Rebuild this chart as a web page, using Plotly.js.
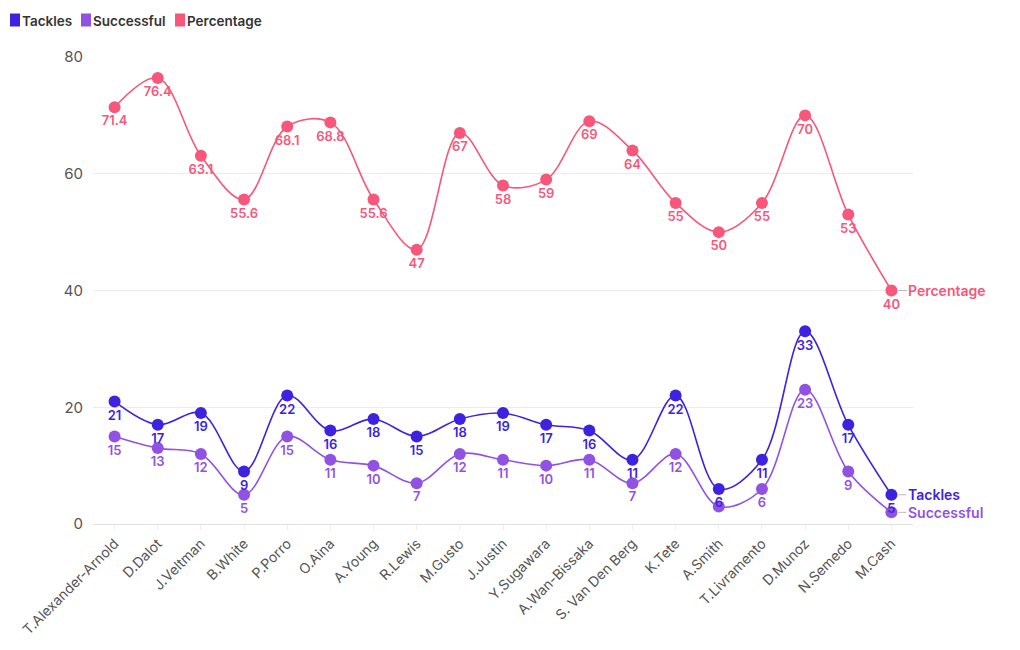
<!DOCTYPE html>
<html><head><meta charset="utf-8">
<script src="https://cdn.plot.ly/plotly-3.0.1.min.js"></script>
<style>body{margin:0;background:#fff}#c{width:1020px;height:650px}</style>
</head><body><div id="c"></div>
<script>
const players = ["T.Alexander-Arnold","D.Dalot","J.Veltman","B.White","P.Porro","O.Aina","A.Young","R.Lewis","M.Gusto","J.Justin","Y.Sugawara","A.Wan-Bissaka","S. Van Den Berg","K.Tete","A.Smith","T.Livramento","D.Munoz","N.Semedo","M.Cash"];
const tackles = [21,17,19,9,22,16,18,15,18,19,17,16,11,22,6,11,33,17,5];
const successful = [15,13,12,5,15,11,10,7,12,11,10,11,7,12,3,6,23,9,2];
const percentage = [71.4,76.4,63.1,55.6,68.1,68.8,55.6,47,67,58,59,69,64,55,50,55,70,53,40];
const seriesNames = ["Tackles","Successful","Percentage"];
const yTicks = [0,20,40,60,80];

const C = {Tackles:'#3d22df', Successful:'#9152e3', Percentage:'#f7577b'};
const FONT = 'Inter, "Noto Sans", sans-serif';

const L = 93, T = 57, W = 820, H = 467;
const px = v => (v - L) / W;
const py = v => (T + H - v) / H;

function series(name, y, text){
  const color = C[name];
  return {type:'scatter', mode:'lines+markers+text', name, x:players, y,
    line:{color, width:1.6, shape:'spline', smoothing:1},
    marker:{color, size:12},
    text, textposition:'bottom center',
    textfont:{color, size:13, family:FONT, weight:600},
    cliponaxis:false, showlegend:false, hoverinfo:'x+y'};
}
const sText = successful.map((v,i)=> (tackles[i]-v < 4 ? '' : String(v)));
const traces = [
  series('Percentage', percentage, percentage.map(String)),
  series('Successful', successful, sText),
  series('Tackles', tackles, tackles.map(String)),
];

const last = players.length-1;
function endLabel(name, y){
  return {x:players[last], y, text:name, showarrow:true, arrowhead:0, arrowwidth:1,
    arrowcolor:'#bbbbbb', ax:15, ay:0, xanchor:'left', standoff:7,
    font:{color:C[name], size:14, family:FONT, weight:600}};
}

// custom legend
const legX = [10, 81, 175];
const shapes = [], legAnn = [];
seriesNames.forEach((n,i)=>{
  shapes.push({type:'rect', xref:'paper', yref:'paper', x0:px(legX[i]), x1:px(legX[i]+10),
    y0:py(13.5), y1:py(26.5), fillcolor:C[n], line:{width:0}});
  legAnn.push({xref:'paper', yref:'paper', x:px(legX[i]+11), y:py(20.5), xanchor:'left', yanchor:'middle',
    showarrow:false, text:n, borderpad:0, font:{size:13.5, color:'#333', family:FONT, weight:600}});
});

const layout = {
  width:1020, height:650,
  margin:{l:L, r:1020-L-W, t:T, b:650-T-H},
  paper_bgcolor:'#fff', plot_bgcolor:'#fff',
  font:{family:FONT, color:'#555'},
  xaxis:{type:'category', range:[-0.5, players.length-0.5], tickangle:-45,
    tickfont:{size:14, color:'#555'}, showgrid:false, zeroline:false,
    ticks:'outside', ticklen:5, tickcolor:'#eeeeee', showline:false},
  yaxis:{range:[0,80], tickvals:yTicks, tickfont:{size:15, color:'#555'},
    gridcolor:'#ececec', zeroline:true, zerolinecolor:'#e2e2e2', ticks:'outside', ticklen:6, tickcolor:'#fff'},
  showlegend:false,
  shapes,
  annotations:[
    endLabel('Tackles', tackles[last]),
    endLabel('Successful', successful[last]),
    endLabel('Percentage', percentage[last]),
    ...legAnn
  ]
};
Plotly.newPlot('c', traces, layout, {displayModeBar:false});
</script></body></html>
